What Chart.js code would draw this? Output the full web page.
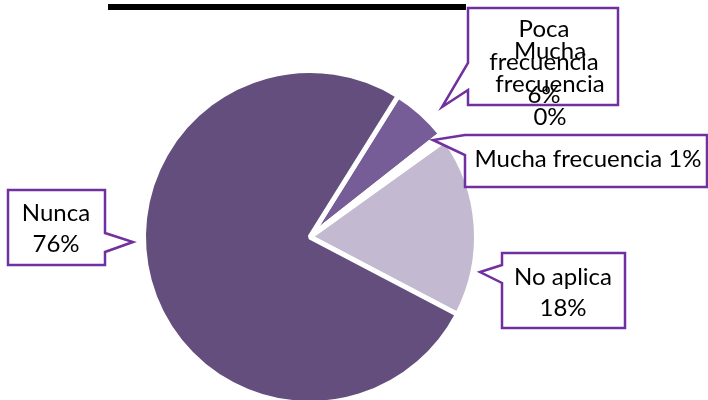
<!DOCTYPE html>
<html lang="es">
  <head>
    <meta charset="UTF-8" />
    <title>Frecuencia</title>
    <script src="https://cdn.jsdelivr.net/npm/chart.js@4.4.0/dist/chart.umd.min.js"></script>
    <style>
      html, body { margin: 0; padding: 0; background: #fff; }
      #wrap { position: relative; width: 708px; height: 400px; overflow: hidden; }
      #topLine { position: absolute; left: 108px; top: 4px; width: 358px; height: 6px; background: #000; }
      #pie { position: absolute; left: 0; top: 0; }
    </style>
  </head>
  <body>
    <div id="wrap">
      <canvas id="pie" width="708" height="412"></canvas>
      <div id="topLine"></div>
    </div>
    <script>
      // datos (porcentaje de respuestas)
      const categories = ["Poca frecuencia", "Mucha frecuencia", "Mucha frecuencia", "No aplica", "Nunca"];
      const shares = [5.5, 0.2, 0.5, 17.6, 76.2];

      const sliceColors = ["#765d97", "#8b77aa", "#a292b9", "#c3b9d0", "#634e7e"];
      const FONT = '24px Lato, "Noto Sans", sans-serif';
      const PURPLE = "#7030a0";

      // callouts: box, pointer and text lines (layout only)
      const callouts = [
        { idx: 0, split: "words", box: [468, 8, 618, 105], side: "left", base: [63, 90], tip: [442, 107], cx: 544, y0: 37, lh: 33 },
        { idx: 1, split: "words", box: null, cx: 550, y0: 59, lh: 33 },
        { idx: 2, split: "none", box: [465, 135, 707, 187], side: "left", base: [135, 155], tip: [433, 140], cx: 588, y0: 167, lh: 31 },
        { idx: 3, split: "name", box: [502, 253, 625, 328], side: "left", base: [265, 283], tip: [480, 272], cx: 563, y0: 285, lh: 31 },
        { idx: 4, split: "name", box: [8, 190, 105, 265], side: "right", base: [233, 252], tip: [133, 242], cx: 56, y0: 221, lh: 31 }
      ];

      function labelLines(c) {
        const pct = Math.round(shares[c.idx]) + "%";
        const name = categories[c.idx];
        if (c.split === "words") return name.split(" ").concat([pct]);
        if (c.split === "name") return [name, pct];
        return [name + " " + pct];
      }

      function calloutPath(ctx, c) {
        const [x1, y1, x2, y2] = c.box;
        const [b1, b2] = c.base;
        ctx.beginPath();
        if (c.side === "left") {
          ctx.moveTo(x1, b1);
          if (b1 > y1) ctx.lineTo(x1, y1);
          ctx.lineTo(x2, y1);
          ctx.lineTo(x2, y2);
          ctx.lineTo(x1, y2);
          ctx.lineTo(x1, b2);
          ctx.lineTo(c.tip[0], c.tip[1]);
        } else {
          ctx.moveTo(x1, y1);
          ctx.lineTo(x2, y1);
          ctx.lineTo(x2, b1);
          ctx.lineTo(c.tip[0], c.tip[1]);
          ctx.lineTo(x2, b2);
          ctx.lineTo(x2, y2);
          ctx.lineTo(x1, y2);
        }
        ctx.closePath();
      }

      const calloutPlugin = {
        id: "callouts",
        afterDraw(chart) {
          const ctx = chart.ctx;
          ctx.save();
          callouts.forEach((c) => {
            if (!c.box) return;
            calloutPath(ctx, c);
            ctx.fillStyle = "#fff";
            ctx.fill();
            ctx.lineWidth = 2.5;
            ctx.lineJoin = "miter";
            ctx.strokeStyle = PURPLE;
            ctx.stroke();
          });
          ctx.font = FONT;
          ctx.fillStyle = "#000";
          ctx.textAlign = "center";
          ctx.textBaseline = "alphabetic";
          callouts.forEach((c) => {
            labelLines(c).forEach((t, i) => ctx.fillText(t, c.cx, c.y0 + i * c.lh));
          });
          ctx.restore();
        }
      };

      new Chart(document.getElementById("pie"), {
        type: "pie",
        data: {
          labels: categories,
          datasets: [{
            data: shares,
            backgroundColor: sliceColors,
            borderColor: "#fff",
            borderWidth: 5
          }]
        },
        options: {
          responsive: false,
          animation: false,
          rotation: 32,
          layout: { padding: { left: 141, right: 229, top: 68, bottom: 6 } },
          plugins: { legend: { display: false }, tooltip: { enabled: false } }
        },
        plugins: [calloutPlugin]
      });
    </script>
  </body>
</html>
